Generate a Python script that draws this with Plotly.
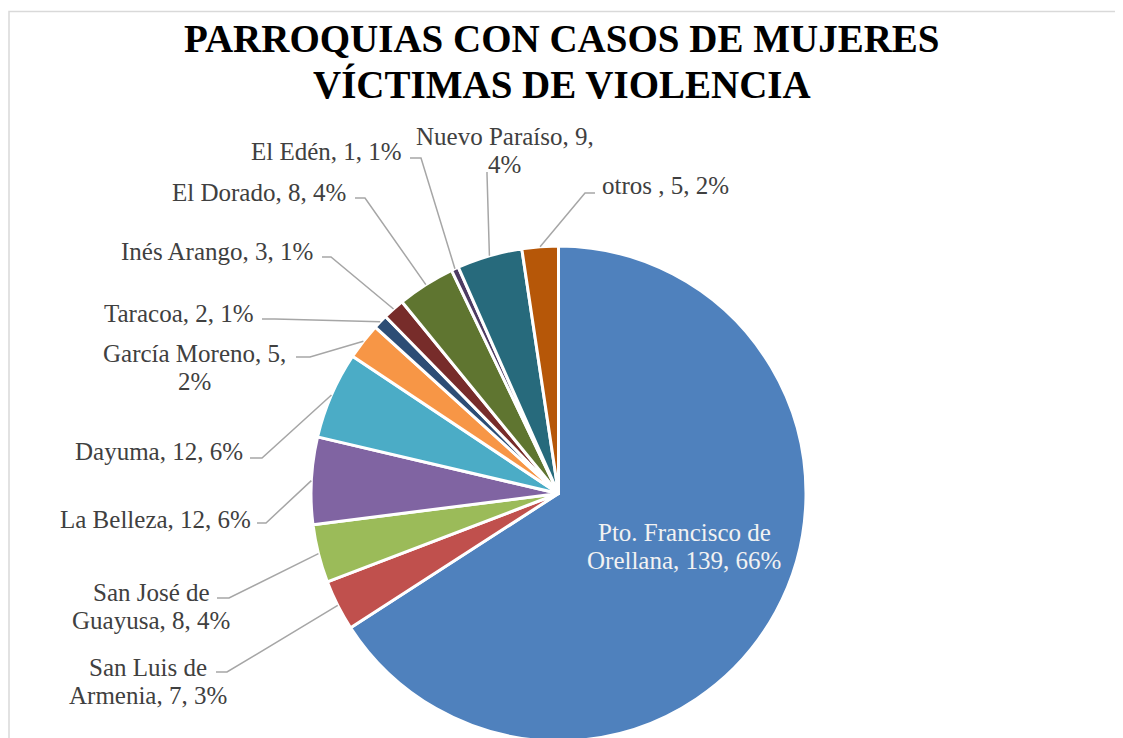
import math

import plotly.graph_objects as go

parroquias = ["Pto. Francisco de Orellana", "San Luis de Armenia", "San José de Guayusa",
              "La Belleza", "Dayuma", "García Moreno", "Taracoa", "Inés Arango",
              "El Dorado", "El Edén", "Nuevo Paraíso", "otros "]
casos = [139, 7, 8, 12, 12, 5, 2, 3, 8, 1, 9, 5]
porcentajes = [66, 3, 4, 6, 6, 2, 1, 1, 4, 1, 4, 2]

colores = ["#4F81BD", "#C0504D", "#9BBB59", "#8064A2", "#4BACC6", "#F79646",
           "#2C4D75", "#772C2A", "#5F7530", "#4D3B62", "#276A7C", "#B65708"]

W, H = 1123, 738
OFF = 8  # page body margin
CX, CY, R = 558.5, 493.5, 247.5  # pie centre / radius on screen

# label layout on screen: text x, text y, anchor, leader start/elbow, wrap after 3 words
label_pos = [
    (684, 546, "center", None, True),
    (148, 681, "center", [(216, 672), (227, 672)], True),
    (151, 606, "center", [(217, 598), (229, 598)], True),
    (253, 519, "right", [(257, 523), (266, 523)], False),
    (245, 451, "right", [(250, 458), (262, 458)], False),
    (194, 367, "center", [(296, 357), (310, 357)], True),
    (256, 313, "right", [(262, 319), (275, 319)], False),
    (315, 251, "right", [(322, 257), (331, 257)], False),
    (348, 192, "right", [(355, 198), (365, 198)], False),
    (404, 151, "right", [(410, 158), (421, 158)], False),
    (505, 150, "center", [(487, 172), (487, 174)], True),
    (600, 186, "left", [(595, 193), (585, 193)], False),
]
LINE_GAP = 14


def px(x):
    return (x - OFF) / W


def py(y):
    return 1 - (y - OFF) / H


fig = go.Figure(go.Pie(
    labels=parroquias,
    values=casos,
    sort=False,
    direction="clockwise",
    rotation=0,
    marker=dict(colors=colores, line=dict(color="white", width=3)),
    textinfo="none",
    hoverinfo="label+value+percent",
    showlegend=False,
    domain=dict(x=[px(CX - R), px(CX + R)], y=[py(CY + R), py(CY - R)]),
))

total = sum(casos)
annotations = []
shapes = []
cum = 0
for name, v, pct, pos in zip(parroquias, casos, porcentajes, label_pos):
    mid = math.radians((cum + v / 2) / total * 360)
    cum += v
    tx, ty, anchor, leader, wrap = pos
    text = f"{name}, {v}, {pct}%"
    if wrap:
        words = text.split(" ")
        lines = [(" ".join(words[:3]), ty - LINE_GAP), (" ".join(words[3:]), ty + LINE_GAP)]
    else:
        lines = [(text, ty)]
    color = "#F2F2F2" if leader is None else "#404040"
    for line, ly in lines:
        annotations.append(dict(
            x=px(tx), y=py(ly), xref="paper", yref="paper",
            text=line, showarrow=False, xanchor=anchor, yanchor="middle",
            font=dict(family="Liberation Serif", size=25, color=color),
        ))
    if leader:
        ax = CX + R * math.sin(mid)
        ay = CY - R * math.cos(mid)
        (x1, y1), (x2, y2) = leader
        shapes.append(dict(
            type="path", xref="paper", yref="paper",
            path=f"M {px(x1)},{py(y1)} L {px(x2)},{py(y2)} L {px(ax)},{py(ay)}",
            line=dict(color="#A6A6A6", width=1.5),
        ))

for line, ly in [("PARROQUIAS CON CASOS DE MUJERES", 38), ("VÍCTIMAS DE VIOLENCIA", 85)]:
    annotations.append(dict(
        x=px(562), y=py(ly), xref="paper", yref="paper",
        text=line, showarrow=False, xanchor="center", yanchor="middle",
        font=dict(family="Liberation Serif", size=39, color="black", weight="bold"),
    ))

# chart frame (left edge kept just inside the page)
shapes.append(dict(
    type="rect", xref="paper", yref="paper",
    x0=px(9), x1=1.05, y0=-0.05, y1=py(11.5),
    line=dict(color="#D9D9D9", width=1.5),
))

fig.update_layout(
    width=W, height=H, autosize=False,
    margin=dict(l=0, r=0, t=0, b=0),
    paper_bgcolor="white",
    annotations=annotations,
    shapes=shapes,
)

fig.write_html("out.html")
